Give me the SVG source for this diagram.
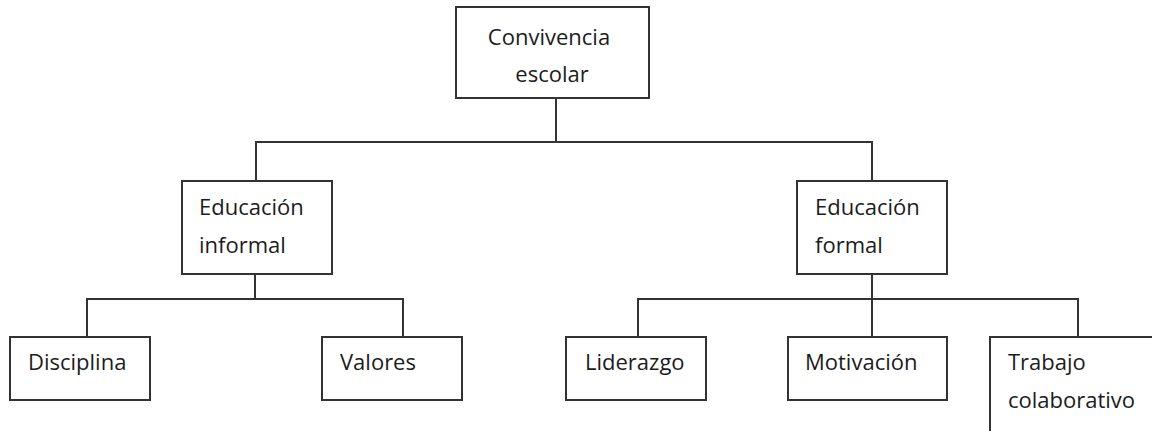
<svg xmlns="http://www.w3.org/2000/svg" width="1152" height="431" viewBox="0 0 1152 431">
<style>
.box{fill:#fff;stroke:#333;stroke-width:2}
.lbl{font-family:"Open Sans","Liberation Sans",sans-serif;font-size:22px;fill:#1c1c1c}
.con{fill:none;stroke:#333;stroke-width:2}
</style>
<rect width="1152" height="431" fill="#fff"/>
<g id="connectors">
<path class="con" d="M556 98V142M256 181V142H872V181"/>
<path class="con" d="M255 274V299M87 337V299H403V337"/>
<path class="con" d="M872 274V299M638 337V299H1078V337M872 299V337"/>
</g>
<g id="n-convivencia"><rect class="box" x="456" y="7" width="193" height="91"/>
<text class="lbl" x="549" y="45" text-anchor="middle">Convivencia</text>
<text class="lbl" x="552" y="82" text-anchor="middle">escolar</text></g>
<g id="n-informal"><rect class="box" x="182" y="181" width="150" height="93"/>
<text class="lbl" x="199" y="215">Educación</text>
<text class="lbl" x="199" y="253">informal</text></g>
<g id="n-formal"><rect class="box" x="797" y="181" width="150" height="93"/>
<text class="lbl" x="815" y="215">Educación</text>
<text class="lbl" x="815" y="253">formal</text></g>
<g id="n-disciplina"><rect class="box" x="10" y="337" width="140" height="63"/>
<text class="lbl" x="28" y="370">Disciplina</text></g>
<g id="n-valores"><rect class="box" x="322" y="337" width="140" height="63"/>
<text class="lbl" x="340" y="370">Valores</text></g>
<g id="n-liderazgo"><rect class="box" x="566" y="337" width="140" height="63"/>
<text class="lbl" x="585" y="370">Liderazgo</text></g>
<g id="n-motivacion"><rect class="box" x="788" y="337" width="159" height="63"/>
<text class="lbl" x="805" y="370">Motivación</text></g>
<g id="n-trabajo"><rect class="box" x="990" y="337" width="175" height="110"/>
<text class="lbl" x="1008" y="370">Trabajo</text>
<text class="lbl" x="1008" y="408">colaborativo</text></g>
</svg>
